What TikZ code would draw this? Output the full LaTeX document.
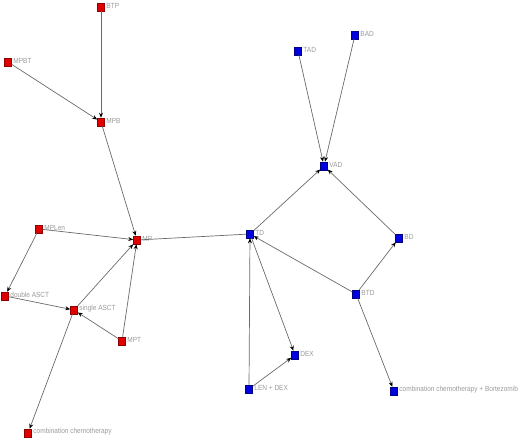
\documentclass[tikz,border=0pt]{standalone}
\usepackage{fontspec}
\setmainfont{Liberation Sans}
\newfontfamily\labfont[FakeStretch=0.88]{Liberation Sans}
\usetikzlibrary{arrows.meta}
\definecolor{nred}{HTML}{E00000}
\definecolor{nredd}{HTML}{900000}
\definecolor{nblue}{HTML}{0000E0}
\definecolor{nblued}{HTML}{000080}
\definecolor{edgec}{HTML}{6A6A6A}
\definecolor{labc}{HTML}{9A9A9A}
\tikzset{
  x=1pt, y=-1pt,
  rnode/.style={rectangle, fill=nred, draw=nredd, line width=0.5pt, minimum width=7pt, minimum height=8pt, inner sep=0pt},
  bnode/.style={rectangle, fill=nblue, draw=nblued, line width=0.5pt, minimum width=7pt, minimum height=8pt, inner sep=0pt},
  lab/.style={anchor=west, inner sep=0pt, text=labc, font=\labfont\fontsize{7.4}{8}\selectfont},
  edge/.style={draw=edgec, line width=0.7pt, -{Stealth[color=black, length=5pt, width=4pt]}},
  uedge/.style={draw=edgec, line width=0.7pt},
}
\begin{document}
\begin{tikzpicture}
\useasboundingbox (0,0) rectangle (520,441);
% red nodes
\node[rnode] (BTP) at (101,7) {};
\node[rnode] (MPBT) at (8,62) {};
\node[rnode] (MPB) at (101,122) {};
\node[rnode] (MPLen) at (39,229) {};
\node[rnode] (MP) at (137,240) {};
\node[rnode] (DA) at (5,296) {};
\node[rnode] (SA) at (74,310) {};
\node[rnode] (MPT) at (122,341) {};
\node[rnode] (CC) at (28,433) {};
% blue nodes
\node[bnode] (TAD) at (298,51) {};
\node[bnode] (BAD) at (355,35) {};
\node[bnode] (VAD) at (324,166) {};
\node[bnode] (TD) at (250,234) {};
\node[bnode] (BD) at (399,238) {};
\node[bnode] (BTD) at (356,294) {};
\node[bnode] (DEX) at (295,355) {};
\node[bnode] (LD) at (249,389) {};
\node[bnode] (CCB) at (394,391) {};
% labels
\node[lab] (lBTP) at ([xshift=1.5pt,yshift=1pt]BTP.east) {BTP};
\node[lab] (lMPBT) at ([xshift=1.5pt,yshift=1pt]MPBT.east) {MPBT};
\node[lab] (lMPB) at ([xshift=1.5pt,yshift=1pt]MPB.east) {MPB};
\node[lab] (lMPLen) at ([xshift=1.5pt,yshift=1pt]MPLen.east) {MPLen};
\node[lab] (lMP) at ([xshift=1.5pt,yshift=1pt]MP.east) {MP};
\node[lab] (lDA) at ([xshift=1.5pt,yshift=1pt]DA.east) {double ASCT};
\node[lab] (lSA) at ([xshift=1.5pt,yshift=1pt]SA.east) {single ASCT};
\node[lab] (lMPT) at ([xshift=1.5pt,yshift=1pt]MPT.east) {MPT};
\node[lab] (lCC) at ([xshift=1.5pt,yshift=1pt]CC.east) {combination chemotherapy};
\node[lab] (lTAD) at ([xshift=1.5pt,yshift=1pt]TAD.east) {TAD};
\node[lab] (lBAD) at ([xshift=1.5pt,yshift=1pt]BAD.east) {BAD};
\node[lab] (lVAD) at ([xshift=1.5pt,yshift=1pt]VAD.east) {VAD};
\node[lab] (lTD) at ([xshift=1.5pt,yshift=1pt]TD.east) {TD};
\node[lab] (lBD) at ([xshift=1.5pt,yshift=1pt]BD.east) {BD};
\node[lab] (lBTD) at ([xshift=1.5pt,yshift=1pt]BTD.east) {BTD};
\node[lab] (lDEX) at ([xshift=1.5pt,yshift=1pt]DEX.east) {DEX};
\node[lab] (lLD) at ([xshift=1.5pt,yshift=1pt]LD.east) {LEN + DEX};
\node[lab] (lCCB) at ([xshift=1.5pt,yshift=1pt]CCB.east) {combination chemotherapy + Bortezomib};
% edges
\draw[edge] (BTP) -- (MPB);
\draw[edge] (MPBT) -- (MPB);
\draw[edge] (MPB) -- (MP);
\draw[edge] (MPLen) -- (MP);
\draw[edge] (MPLen) -- (DA);
\draw[edge] (DA) -- (SA);
\draw[edge] (SA) -- (MP);
\draw[edge] (MPT) -- (SA);
\draw[edge] (MPT) -- (MP);
\draw[edge] (SA) -- (CC);
\draw[uedge] (MP) -- (TD);
\draw[edge] (TAD) -- (VAD);
\draw[edge] (BAD) -- (VAD);
\draw[edge] (TD) -- (VAD);
\draw[edge] (BD) -- (VAD);
\draw[edge] (BTD) -- (TD);
\draw[edge] (BTD) -- (BD);
\draw[edge] (TD) -- (DEX);
\draw[edge] (LD) -- (TD);
\draw[edge] (LD) -- (DEX);
\draw[edge] (BTD) -- (CCB);
\end{tikzpicture}
\end{document}
